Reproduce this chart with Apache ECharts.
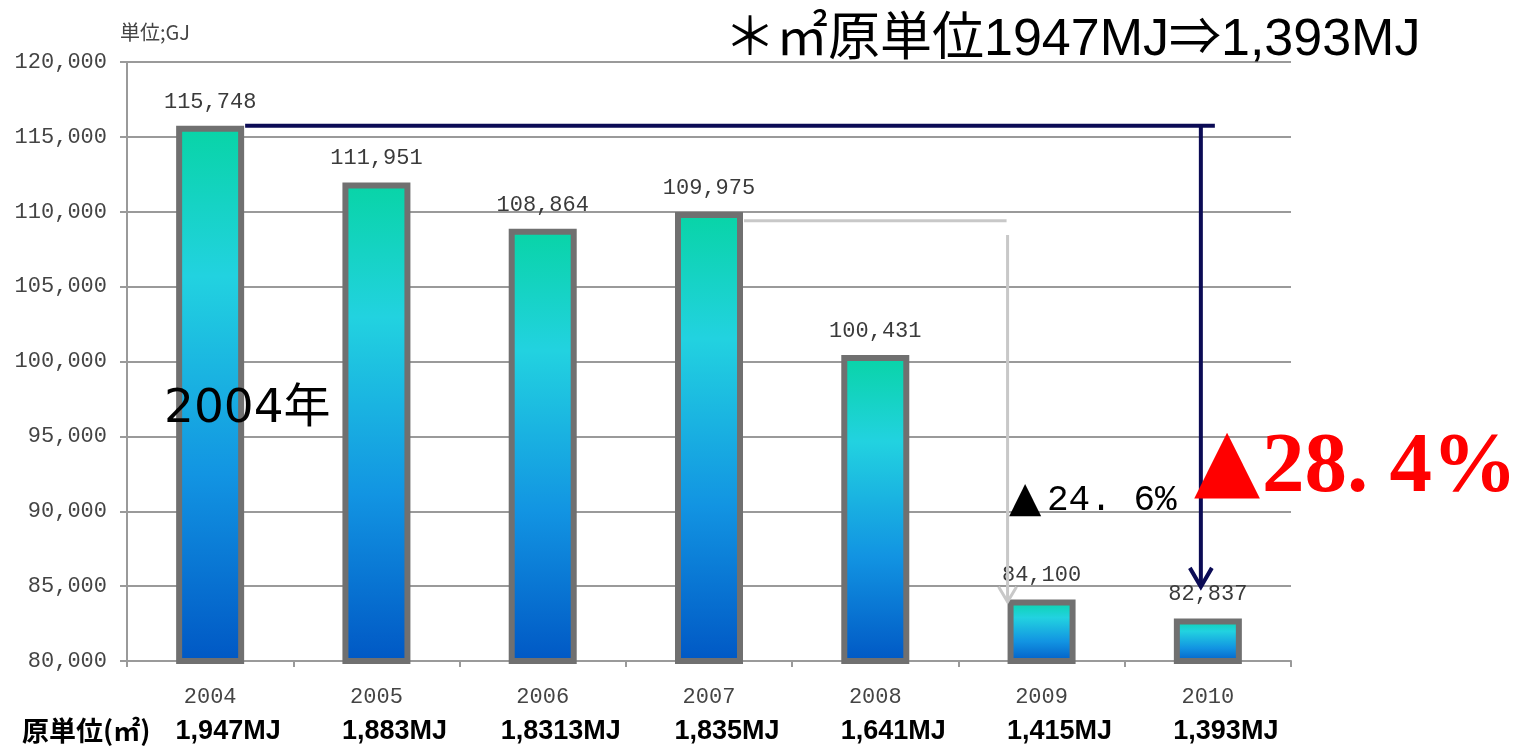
<!DOCTYPE html>
<html>
<head>
<meta charset="utf-8">
<script src="https://cdn.jsdelivr.net/npm/echarts@6/dist/echarts.min.js"></script>
<style>
  html, body { margin: 0; padding: 0; background: #ffffff; }
  #chart { width: 1517px; height: 746px; }
</style>
</head>
<body>
<div id="chart"></div>
<script>
// Annual energy use (GJ) and energy intensity per floor area
const years = ['2004', '2005', '2006', '2007', '2008', '2009', '2010'];
const energyGJ = [115748, 111951, 108864, 109975, 100431, 84100, 82837];
const intensityMJ = ['1,947MJ', '1,883MJ', '1,8313MJ', '1,835MJ', '1,641MJ', '1,415MJ', '1,393MJ'];

// Reduction arrows: [level of the horizontal run, start of the drop, arrow tip] in GJ
const totalArrow = [115748, 115748, 84950];   // 2004 -> 2010
const recentArrow = [109400, 108450, 83950];  // 2007 -> 2009
const totalCutText = '28. 4%';
const recentCutText = '24. 6%';
const headline = '＊㎡原単位1947MJ⇒1,393MJ';

const fmt = v => Number(v).toLocaleString('en-US');

const chart = echarts.init(document.getElementById('chart'), null, { renderer: 'canvas' });

const barGradient = new echarts.graphic.LinearGradient(0, 0, 0, 1, [
  { offset: 0, color: '#08d4a6' },
  { offset: 0.28, color: '#22d2e0' },
  { offset: 0.65, color: '#1294e2' },
  { offset: 1, color: '#0057c4' }
]);

chart.setOption({
  animation: false,
  backgroundColor: '#ffffff',
  grid: { left: 127, right: 226, top: 62, bottom: 85, containLabel: false },
  xAxis: {
    type: 'category',
    data: years,
    boundaryGap: true,
    axisLine: { lineStyle: { color: '#9a9a9a', width: 2 } },
    axisTick: { show: true, length: 6, lineStyle: { color: '#9a9a9a', width: 2 } },
    axisLabel: {
      interval: 0,
      margin: 20,
      formatter: (v, i) => `{y|${v}}\n{m|${intensityMJ[i]}}`,
      rich: {
        y: { fontFamily: 'Liberation Mono', fontSize: 22, color: '#444444', lineHeight: 32 },
        m: { fontFamily: 'Liberation Sans', fontWeight: 'bold', fontSize: 27, color: '#000000',
             lineHeight: 38, padding: [0, 0, 0, 36] }
      }
    }
  },
  yAxis: {
    type: 'value',
    min: 80000,
    max: 120000,
    interval: 5000,
    name: '単位;GJ',
    nameLocation: 'end',
    nameGap: 20,
    nameTextStyle: { fontFamily: 'Noto Sans CJK JP', fontSize: 20, color: '#444444', padding: [0, 0, 0, 56] },
    axisLine: { show: true, lineStyle: { color: '#9a9a9a', width: 2 } },
    axisTick: { show: true, length: 7, lineStyle: { color: '#9a9a9a', width: 2 } },
    splitLine: { lineStyle: { color: '#9a9a9a', width: 2 } },
    axisLabel: { margin: 20, fontFamily: 'Liberation Mono', fontSize: 22, color: '#444444', formatter: fmt }
  },
  series: [{
    type: 'bar',
    data: energyGJ,
    barWidth: 68,
    itemStyle: { color: barGradient, borderColor: '#707070', borderWidth: 6 },
    label: {
      show: true,
      position: 'top',
      distance: 13,
      fontFamily: 'Liberation Mono',
      fontSize: 22,
      color: '#3a3a3a',
      formatter: p => fmt(p.value)
    }
  }]
});

// Arrows and callouts placed through the chart's own coordinate system
const px = (i, v) => chart.convertToPixel({ xAxisIndex: 0, yAxisIndex: 0 }, [years[i], v]);
const halfBar = 35;

const t0 = px(0, totalArrow[0]);
const t6 = px(6, totalArrow[1]);
const tTip = px(6, totalArrow[2]);
const navyX = t6[0] - 7;

const r3 = px(3, recentArrow[0]);
const r5 = px(5, recentArrow[1]);
const rTip = px(5, recentArrow[2]);
const grayX = r5[0] - halfBar + 1;

const navy = '#0b0b55';
const gray = '#c8c8c8';

chart.setOption({
  graphic: [
    // 2007 -> 2009
    { type: 'line', z: 50, shape: { x1: r3[0] + halfBar, y1: r3[1], x2: grayX - 1, y2: r3[1] },
      style: { stroke: gray, lineWidth: 3 } },
    { type: 'line', z: 50, shape: { x1: grayX, y1: r5[1], x2: grayX, y2: rTip[1] },
      style: { stroke: gray, lineWidth: 3 } },
    { type: 'polyline', z: 50, shape: { points: [[grayX - 9, rTip[1] - 15], [grayX, rTip[1]], [grayX + 9, rTip[1] - 15]] },
      style: { stroke: gray, lineWidth: 3, fill: null } },
    // 2004 -> 2010
    { type: 'line', z: 51, shape: { x1: t0[0] + halfBar, y1: t0[1], x2: t6[0] + 7, y2: t0[1] },
      style: { stroke: navy, lineWidth: 4 } },
    { type: 'line', z: 51, shape: { x1: navyX, y1: t0[1], x2: navyX, y2: tTip[1] },
      style: { stroke: navy, lineWidth: 4 } },
    { type: 'polyline', z: 51, shape: { points: [[navyX - 11, tTip[1] - 19], [navyX, tTip[1]], [navyX + 11, tTip[1] - 19]] },
      style: { stroke: navy, lineWidth: 4, fill: null } },
    // callouts
    { type: 'text', z: 60, x: 1009, y: 500,
      style: { text: '▲', fontFamily: 'DejaVu Sans', fontSize: 42, fill: '#000000', align: 'left', verticalAlign: 'middle' } },
    { type: 'text', z: 60, x: 1047, y: 500,
      style: { text: recentCutText, fontFamily: 'Liberation Mono', fontSize: 36, fill: '#000000', align: 'left', verticalAlign: 'middle' } },
    { type: 'text', z: 60, x: 1194, y: 466,
      style: { text: '▲', fontFamily: 'DejaVu Sans', fontSize: 86, fill: '#ff0000', align: 'left', verticalAlign: 'middle' } },
    { type: 'text', z: 60, x: 1262, y: 469,
      style: { text: totalCutText, fontFamily: 'Liberation Serif', fontWeight: 'bold', fontSize: 85, fill: '#ff0000', align: 'left', verticalAlign: 'middle' } },
    { type: 'text', z: 60, x: 164, y: 410,
      style: { text: '2004年', fontFamily: 'DejaVu Sans, Noto Sans CJK JP', fontSize: 47, fill: '#000000', align: 'left', verticalAlign: 'middle' } },
    { type: 'text', z: 60, x: 724, y: 41,
      style: { text: headline, fontFamily: 'Liberation Sans, Noto Sans CJK JP', fontSize: 52, fill: '#000000', align: 'left', verticalAlign: 'middle' } },
    { type: 'text', z: 60, x: 22, y: 731,
      style: { text: '原単位(㎡)', fontFamily: 'Noto Sans CJK JP', fontWeight: 'bold', fontSize: 27, fill: '#000000', align: 'left', verticalAlign: 'middle' } }
  ]
});
</script>
</body>
</html>
